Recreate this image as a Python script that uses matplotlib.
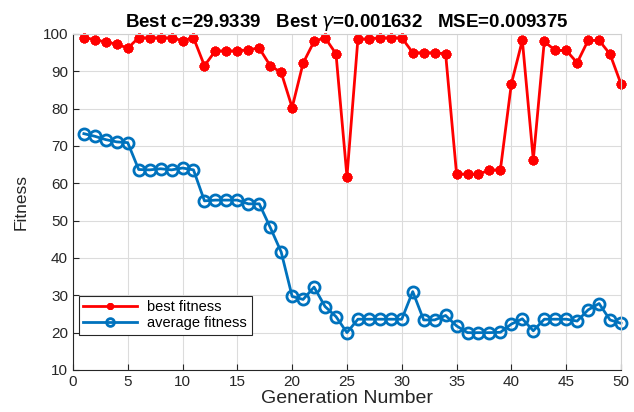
import numpy as np
import matplotlib.pyplot as plt

plt.rcParams['font.family'] = ['Liberation Sans', 'DejaVu Sans']

generations = list(range(1, 51))

best_fitness = [99.0, 98.5, 97.8, 97.3, 96.2, 99.0, 99.0, 99.0, 99.0, 98.2,
                99.0, 91.5, 95.5, 95.5, 95.5, 95.8, 96.2, 91.5, 89.7, 80.3,
                92.2, 98.0, 99.0, 94.7, 61.8, 98.7, 98.7, 99.0, 99.0, 99.0,
                95.0, 95.0, 95.0, 94.7, 62.5, 62.5, 62.5, 63.5, 63.7, 86.7,
                98.3, 66.3, 98.0, 95.6, 95.6, 92.3, 98.3, 98.3, 94.6, 86.6]

avg_fitness = [73.3, 72.6, 71.7, 71.1, 70.9, 63.7, 63.6, 63.9, 63.6, 64.1,
               63.6, 55.3, 55.5, 55.5, 55.5, 54.5, 54.5, 48.2, 41.6, 29.7,
               28.9, 32.2, 27.0, 24.3, 20.0, 23.6, 23.6, 23.6, 23.6, 23.6,
               31.0, 23.4, 23.4, 24.6, 21.8, 20.0, 20.0, 20.0, 20.1, 22.3,
               23.7, 20.5, 23.6, 23.6, 23.6, 23.1, 26.1, 27.8, 23.4, 22.5]

fig = plt.figure(figsize=(6.34, 4.12), dpi=100)
ax = fig.add_axes([0.115, 0.102, 0.8645, 0.8155])

ax.plot(generations, best_fitness, color="#ff0000", lw=2,
        marker=(8, 2, 0), ms=7, mew=2.2, label="best fitness", clip_on=False)
ax.plot(generations, avg_fitness, color="#0072bd", lw=2,
        marker="o", ms=8, mfc="none", mew=2, label="average fitness",
        clip_on=False)

ax.set_xlim(0, 50)
ax.set_ylim(10, 100)
ax.set_xticks(np.arange(0, 51, 5))
ax.set_yticks(np.arange(10, 101, 10))
ax.grid(True, color="#dcdcdc", lw=0.8)
ax.set_axisbelow(True)
ax.tick_params(direction="in", labelsize=11, length=4, colors="#262626")
for s in ("top", "right"):
    ax.spines[s].set_color("#d0d0d0")
for s in ("left", "bottom"):
    ax.spines[s].set_color("#262626")

ax.set_xlabel("Generation Number", fontsize=14, color="#262626", labelpad=1)
ax.set_ylabel("Fitness", fontsize=12.5, color="#262626", labelpad=10)
ax.set_title(r"Best c=29.9339   Best $\gamma$=0.001632   MSE=0.009375",
             fontsize=13.5, fontweight="bold", pad=5)

leg = ax.legend(loc="lower left", bbox_to_anchor=(0.011, 0.105), fontsize=10.5,
                fancybox=False, edgecolor="#262626", framealpha=1,
                handlelength=3.7, handletextpad=0.7, markerscale=0.7,
                borderpad=0.3, labelspacing=0.15, borderaxespad=0)
leg.get_frame().set_linewidth(0.8)

fig.savefig("out.png", dpi=100)
